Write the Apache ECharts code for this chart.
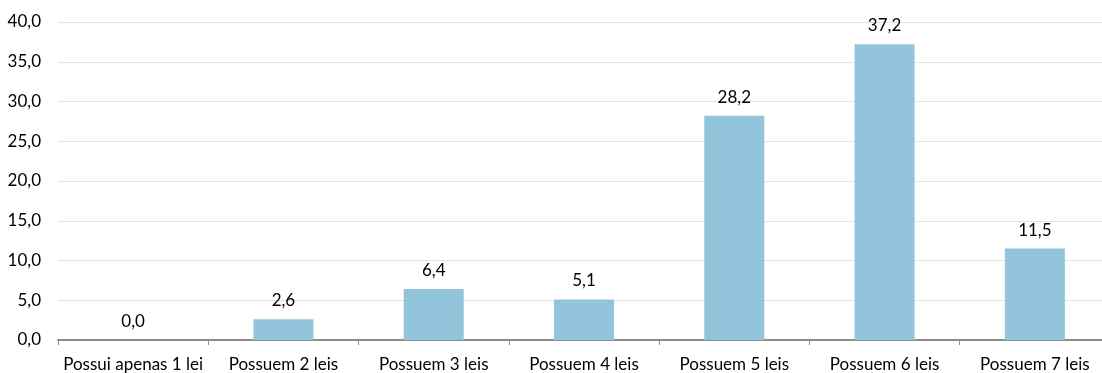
<!DOCTYPE html>
<html><head><meta charset="utf-8">
<script src="https://cdn.jsdelivr.net/npm/echarts@6/dist/echarts.min.js"></script>
<style>html,body{margin:0;padding:0;background:#fff;overflow:hidden}#c{width:1110px;height:373px}</style>
</head><body><div id="c"></div>
<script>
const categories = ["Possui apenas 1 lei","Possuem 2 leis","Possuem 3 leis","Possuem 4 leis","Possuem 5 leis","Possuem 6 leis","Possuem 7 leis"];
const values = [0.0, 2.6, 6.4, 5.1, 28.2, 37.2, 11.5];
const fmt = v => Number(v).toFixed(1).replace('.', ',');
const chart = echarts.init(document.getElementById('c'));
chart.setOption({
  animation: false,
  textStyle: {fontFamily: 'Lato, "Open Sans", sans-serif'},
  grid: {left: 58, right: 0, top: 22, bottom: 33, containLabel: false},
  xAxis: {
    type: 'category', data: categories,
    axisLine: {lineStyle: {color: '#8c8c8c', width: 2}},
    axisTick: {show: true, length: 5, lineStyle: {color: '#8c8c8c', width: 1}},
    axisLabel: {color: '#000', fontSize: 17, margin: 16, interval: 0}
  },
  yAxis: {
    type: 'value', min: 0, max: 40, interval: 5,
    axisLine: {show: false}, axisTick: {show: false},
    splitLine: {lineStyle: {color: '#e3e3e3', width: 1}},
    axisLabel: {color: '#000', fontSize: 17, margin: 17, formatter: v => fmt(v)}
  },
  series: [{
    type: 'bar', data: values, barWidth: 60,
    itemStyle: {color: '#92c5dc'},
    label: {show: true, position: 'top', distance: 10, color: '#000', fontSize: 17, formatter: p => fmt(p.value)}
  }]
});
</script></body></html>
